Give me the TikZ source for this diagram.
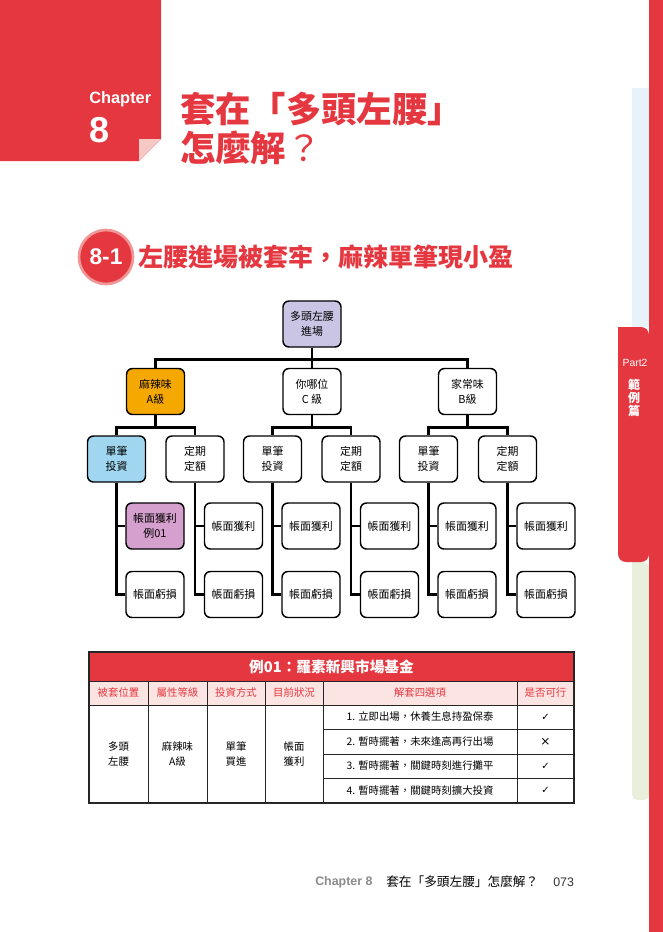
\documentclass[tikz,border=0pt]{standalone}
\usepackage{fontspec}
\setmainfont{Liberation Sans}
\newfontfamily\cjk{Noto Sans CJK TC}
\newfontfamily\symfont{DejaVu Sans}
\usepackage{xcolor}
\usepackage{tikz}
\usetikzlibrary{positioning}

\definecolor{pagered}{RGB}{229,55,63}
\definecolor{foldpink}{RGB}{245,200,195}
\definecolor{ringpink}{RGB}{241,150,150}
\definecolor{topviolet}{RGB}{202,197,228}
\definecolor{spicyorange}{RGB}{245,168,0}
\definecolor{lumpblue}{RGB}{160,214,240}
\definecolor{gainmauve}{RGB}{214,160,206}
\definecolor{headpink}{RGB}{252,228,226}
\definecolor{stripblue}{RGB}{231,242,251}
\definecolor{stripgreen}{RGB}{232,240,220}

\begin{document}
\begin{tikzpicture}[x=0.75pt, y=-0.75pt, node distance=3pt,
  box/.style={draw, line width=1.1pt, rounded corners=4.5pt, fill=white, minimum width=43.5pt, minimum height=34.5pt, align=center, inner sep=1pt, font=\cjk\fontsize{8.2}{11}\selectfont},
  conn/.style={line width=2.2pt},
  rule/.style={line width=0.6pt, draw=black!85},
  headcell/.style={font=\cjk\fontsize{7.8}{10}\selectfont, text=pagered},
  cell/.style={font=\cjk\fontsize{7.8}{11.5}\selectfont, align=center}]
  \useasboundingbox (0,0) rectangle (663,932);
  \fill[white] (0,0) rectangle (663,932);

  % Side strips and tab
  \fill[stripblue] (632,88) rectangle (649,327);
  \fill[stripgreen] (649,562) -- (632,562) [rounded corners=4pt] -- (632,800) -- (649,800) -- cycle;
  \fill[pagered] (649,327) -- (618,327) [rounded corners=6pt] -- (618,562) -- (649,562) -- cycle;
  \fill[pagered] (649,0) rectangle (663,932);
  \node[text=white, font=\fontsize{7.8}{8}\selectfont] (part) at (635,363) {Part2};
  \node[text=white, align=center, font=\cjk\bfseries\fontsize{9}{9.75}\selectfont] (partname) at (634,398) {範\\例\\篇};

  % Chapter block
  \fill[pagered] (0,0) -- (161,0) -- (161,139) -- (139,161) -- (0,161) -- cycle;
  \fill[foldpink] (139,139) -- (161,139) -- (139,161) -- cycle;
  \node[anchor=west, inner sep=0, text=white, font=\bfseries\fontsize{12.3}{12}\selectfont] (chap) at (89,99) {Chapter};
  \node[anchor=west, inner sep=0, text=white, font=\bfseries\fontsize{27}{27}\selectfont] (chapnum) at (89,130) {8};

  % Chapter title
  \node[anchor=west, inner sep=0, text=pagered, font=\cjk\bfseries\fontsize{26.5}{27}\selectfont] (title1) at (180,109) {套在「多頭左腰」};
  \node[anchor=west, inner sep=0, text=pagered, font=\cjk\fontsize{26.5}{27}\selectfont] (title2) at (180,148) {{\bfseries 怎麼解}？};

  % Section heading
  \node[circle, fill=pagered, draw=ringpink, line width=2pt, minimum size=40.5pt, inner sep=0, text=white, font=\bfseries\fontsize{17}{17}\selectfont] (secnum) at (106,257) {8-1};
  \node[right=of secnum, inner sep=0, text=pagered, font=\cjk\bfseries\fontsize{18.75}{20}\selectfont] (sectitle) {左腰進場被套牢，麻辣單筆現小盈};

  % Root
  \node[box, fill=topviolet] (top) at (312,324) {多頭左腰\\進場};

  % Flavour level
  \node[box, fill=spicyorange] (lA) at (155.5,391.5) {麻辣味\\A級};
  \node[box] (lC) at (312,391.5) {你哪位\\C 級};
  \node[box] (lB) at (467.5,391.5) {家常味\\B級};
  \draw[conn] (top.south) -- ++(0,12) -| (lA.north);
  \draw[conn] (top.south) -- ++(0,12) -| (lC.north);
  \draw[conn] (top.south) -- ++(0,12) -| (lB.north);

  % Investing method level
  \node[box, fill=lumpblue] (s1) at (116.5,459) {單筆\\投資};
  \node[box] (s2) at (195,459) {定期\\定額};
  \node[box] (s3) at (272.5,459) {單筆\\投資};
  \node[box] (s4) at (351,459) {定期\\定額};
  \node[box] (s5) at (428.5,459) {單筆\\投資};
  \node[box] (s6) at (507.5,459) {定期\\定額};
  \draw[conn] (lA.south) -- ++(0,12) -| (s1.north);
  \draw[conn] (lA.south) -- ++(0,12) -| (s2.north);
  \draw[conn] (lC.south) -- ++(0,12) -| (s3.north);
  \draw[conn] (lC.south) -- ++(0,12) -| (s4.north);
  \draw[conn] (lB.south) -- ++(0,12) -| (s5.north);
  \draw[conn] (lB.south) -- ++(0,12) -| (s6.north);

  % Gain / loss level
  \node[box, fill=gainmauve] (g1) at (155,526) {帳面獲利\\例01};
  \node[box] (g2) at (233.5,526) {帳面獲利};
  \node[box] (g3) at (311,526) {帳面獲利};
  \node[box] (g4) at (389.5,526) {帳面獲利};
  \node[box] (g5) at (467,526) {帳面獲利};
  \node[box] (g6) at (546,526) {帳面獲利};
  \node[box] (k1) at (155,594.5) {帳面虧損};
  \node[box] (k2) at (233.5,594.5) {帳面虧損};
  \node[box] (k3) at (311,594.5) {帳面虧損};
  \node[box] (k4) at (389.5,594.5) {帳面虧損};
  \node[box] (k5) at (467,594.5) {帳面虧損};
  \node[box] (k6) at (546,594.5) {帳面虧損};
  \foreach \i in {1,...,6} {
    \draw[conn] (s\i.south) |- (g\i.west);
    \draw[conn] (s\i.south) |- (k\i.west);
  }

  % Table
  \fill[pagered] (89,652) rectangle (574,681);
  \fill[headpink] (89,681) rectangle (574,705);
  \draw[rule] (89,681) -- (574,681);
  \draw[rule] (89,705) -- (574,705);
  \foreach \x in {148,207,265,323,517}
    \draw[rule] (\x,681) -- (\x,803);
  \foreach \y in {729,754,778}
    \draw[rule] (323,\y) -- (574,\y);
  \draw[line width=1.1pt, black!85] (89,652) rectangle (574,803);

  \node[text=white, font=\cjk\bfseries\fontsize{11}{12}\selectfont] (tabtitle) at (331.5,666.5) {例01：羅素新興市場基金};
  \node[headcell] (h1) at (118.5,693) {被套位置};
  \node[headcell] (h2) at (177.5,693) {屬性等級};
  \node[headcell] (h3) at (236,693) {投資方式};
  \node[headcell] (h4) at (294,693) {目前狀況};
  \node[headcell] (h5) at (420,693) {解套四選項};
  \node[headcell] (h6) at (545.5,693) {是否可行};

  \node[cell] (c1) at (118.5,754) {多頭\\左腰};
  \node[cell] (c2) at (177.5,754) {麻辣味\\A級};
  \node[cell] (c3) at (236,754) {單筆\\買進};
  \node[cell] (c4) at (294,754) {帳面\\獲利};
  \node[cell] (o1) at (420,717) {1. 立即出場，休養生息持盈保泰};
  \node[cell] (o2) at (420,741.5) {2. 暫時擺著，未來逢高再行出場};
  \node[cell] (o3) at (420,766) {3. 暫時擺著，關鍵時刻進行攤平};
  \node[cell] (o4) at (420,790.5) {4. 暫時擺著，關鍵時刻擴大投資};
  \node[font=\symfont\fontsize{7.5}{9}\selectfont] (m1) at (545.5,717) {✓};
  \node[font=\symfont\fontsize{9}{9}\selectfont] (m2) at (545.5,741.5) {×};
  \node[font=\symfont\fontsize{7.5}{9}\selectfont] (m3) at (545.5,766) {✓};
  \node[font=\symfont\fontsize{7.5}{9}\selectfont] (m4) at (545.5,790.5) {✓};

  % Footer
  \node[anchor=west, inner sep=0, text=black!45, font=\bfseries\fontsize{9.3}{10}\selectfont] (footchap) at (315,882) {Chapter 8};
  \node[anchor=west, inner sep=0, font=\cjk\fontsize{9.5}{10}\selectfont] (foottitle) at (386,882) {套在「多頭左腰」怎麼解？};
  \node[anchor=west, inner sep=0, text=black!80, font=\fontsize{9.3}{10}\selectfont] (pagenum) at (553,882) {073};
\end{tikzpicture}
\end{document}
